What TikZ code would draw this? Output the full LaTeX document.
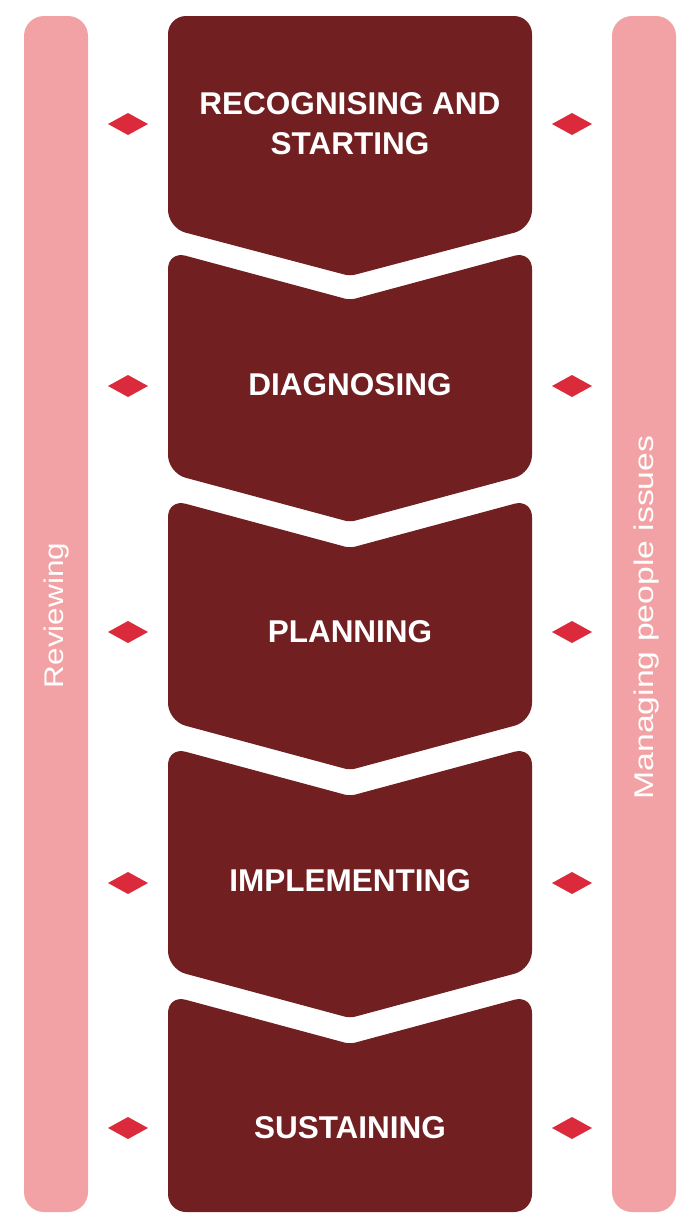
\documentclass[tikz,border=0pt]{standalone}
\usepackage{fontspec}
\setmainfont{Liberation Sans}
\definecolor{boxred}{HTML}{721F22}
\definecolor{barpink}{HTML}{F2A2A4}
\definecolor{diared}{HTML}{DA2A3B}
\newcommand\stageshape[4]{%
  \fill[stage] (532,{(#1+#3)/2}) [rounded corners=18pt] -- (532,#3)
    [rounded corners=5pt] -- (350,#4) [rounded corners=18pt] -- (168,#3) -- (168,#1)
    [rounded corners=5pt] -- (350,#2) [rounded corners=18pt] -- (532,#1) -- cycle;}
\newcommand\markerpair[1]{%
  \fill[marker] (108,#1) -- (128,{#1-11}) -- (148,#1) -- (128,{#1+11}) -- cycle;
  \fill[marker] (552,#1) -- (572,{#1-11}) -- (592,#1) -- (572,{#1+11}) -- cycle;}
\begin{document}
\begin{tikzpicture}[x=1pt,y=-1pt,
  stage/.style={fill=boxred},
  bar/.style={fill=barpink, rounded corners=20pt},
  marker/.style={fill=diared},
  stagelabel/.style={text=white, font=\fontsize{31.5}{40}\selectfont\bfseries, align=center, inner sep=0pt},
  sidelabel/.style={text=white, font=\fontsize{27}{30}\selectfont, rotate=90, anchor=base, inner sep=0pt}]
\useasboundingbox (0,0) rectangle (696,1224);
% side bars
\fill[bar] (24,16) rectangle (88,1212);
\fill[bar] (612,16) rectangle (676,1212);
% stages
\stageshape{16}{16}{228}{276}
\stageshape{251}{300}{473}{522}
\stageshape{499}{548}{721}{770}
\stageshape{747}{796}{969}{1018}
\stageshape{995}{1044}{1212}{1212}
% markers
\markerpair{124}
\markerpair{386}
\markerpair{632}
\markerpair{883}
\markerpair{1128}
% labels
\node[stagelabel] (s1) at (350,124) {RECOGNISING AND\\STARTING};
\node[stagelabel] (s2) at (350,385) {DIAGNOSING};
\node[stagelabel] (s3) at (350,632) {PLANNING};
\node[stagelabel] (s4) at (350,881) {IMPLEMENTING};
\node[stagelabel] (s5) at (350,1128) {SUSTAINING};
\node[sidelabel] (rev) at (63,615.5) {\scalebox{1.165}[1]{Reviewing}};
\node[sidelabel] (mpi) at (653,617.5) {\scalebox{1.25}[1]{Managing people issues}};
\end{tikzpicture}
\end{document}
